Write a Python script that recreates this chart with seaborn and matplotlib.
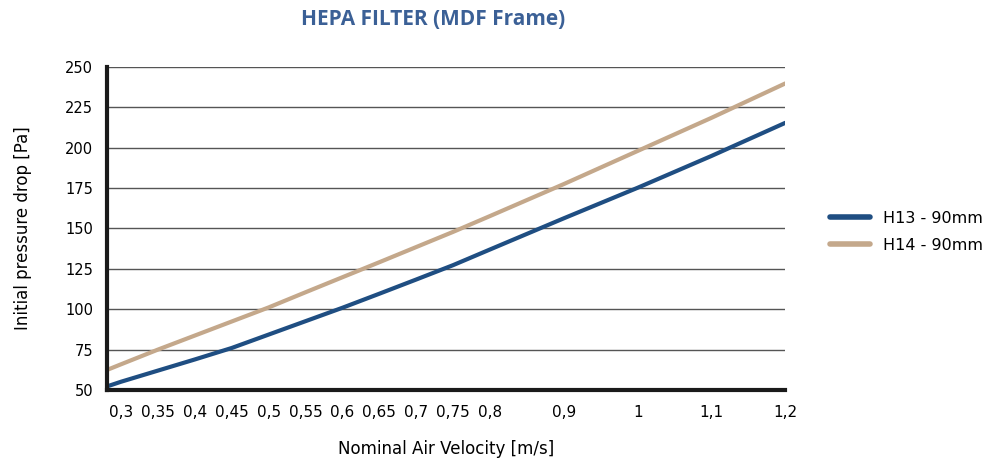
import matplotlib

matplotlib.use("Agg")
import matplotlib.pyplot as plt
import pandas as pd
import seaborn as sns

# air velocity [m/s] (first point is the left edge of the chart)
velocity = [0.281, 0.3, 0.35, 0.4, 0.45, 0.5, 0.55, 0.6, 0.65, 0.7, 0.75, 0.8, 0.9, 1.0, 1.1, 1.2]
h13 = [52.2, 55.1, 62, 68.9, 76, 84.3, 92.6, 100.9, 109.6, 118.4, 127.3, 137, 156.3, 175.2, 194.9, 215.4]
h14 = [62.4, 65.9, 75, 83.7, 92.4, 101.1, 110.5, 119.8, 129.1, 138.5, 147.9, 157.7, 177.5, 198, 218.5, 239.8]

x_ticks = [0.3, 0.35, 0.4, 0.45, 0.5, 0.55, 0.6, 0.65, 0.7, 0.75, 0.8, 0.9, 1.0, 1.1, 1.2]
x_labels = ["0,3", "0,35", "0,4", "0,45", "0,5", "0,55", "0,6", "0,65", "0,7", "0,75", "0,8", "0,9", "1", "1,1", "1,2"]
y_ticks = [50, 75, 100, 125, 150, 175, 200, 225, 250]

series_names = ["H13 - 90mm", "H14 - 90mm"]
colors = {"H13 - 90mm": "#1f4e82", "H14 - 90mm": "#c4a88b"}

df = pd.concat(
    [
        pd.DataFrame({"velocity": velocity, "drop": h13, "filter": series_names[0]}),
        pd.DataFrame({"velocity": velocity, "drop": h14, "filter": series_names[1]}),
    ]
)

sns.set_style("white")
plt.rcParams["font.family"] = ["DejaVu Sans"]
plt.rcParams["text.color"] = "black"

fig = plt.figure(figsize=(9.94, 4.65), dpi=100)
ax = fig.add_axes([0.1076, 0.1613, 0.790 - 0.1076, 0.856 - 0.1613])

sns.lineplot(data=df, x="velocity", y="drop", hue="filter", palette=colors,
             linewidth=3, ax=ax, zorder=3)

ax.set_xlim(0.281, 1.2)
ax.set_ylim(50, 250)
ax.set_xticks(x_ticks)
ax.set_xticklabels(x_labels)
ax.set_yticks(y_ticks)
ax.tick_params(axis="both", length=0, labelsize=10.5, colors="black")
ax.tick_params(axis="x", pad=11, labelsize=11)
ax.tick_params(axis="y", pad=10)

ax.grid(axis="y", color="#555555", linewidth=1)
ax.grid(axis="x", visible=False)
for side in ["top", "right"]:
    ax.spines[side].set_visible(False)
for side in ["left", "bottom"]:
    ax.spines[side].set_color("#1a1a1a")
    ax.spines[side].set_linewidth(3)
    ax.spines[side].set_zorder(4)

ax.set_xlabel("Nominal Air Velocity [m/s]", fontsize=12, labelpad=14, color="black")
ax.set_ylabel("Initial pressure drop [Pa]", fontsize=12, labelpad=24, color="black")

fig.text(0.436, 0.958, "HEPA FILTER (MDF Frame)", ha="center", va="center",
         fontsize=15, fontweight="bold", color="#3b6096", family=["Open Sans", "DejaVu Sans"])

leg = ax.legend(loc="center left", bbox_to_anchor=(1.057, 0.489), frameon=False,
                borderaxespad=0, fontsize=11.5, handlelength=2.5, handletextpad=0.8,
                labelspacing=0.75)
for line in leg.get_lines():
    line.set_linewidth(4)
    line.set_solid_capstyle("round")
for text in leg.get_texts():
    text.set_color("black")

fig.savefig("out.png", dpi=100)
